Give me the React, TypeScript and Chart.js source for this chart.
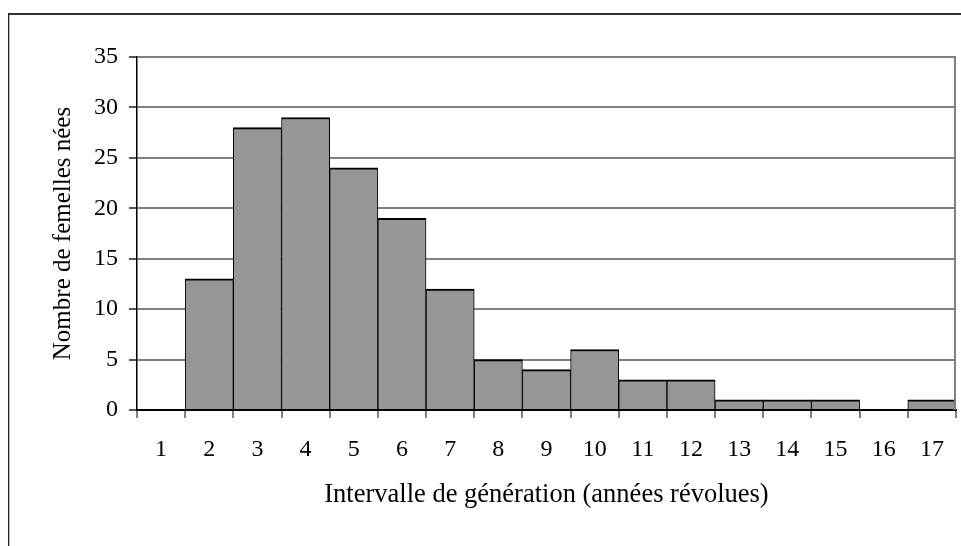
import React, { useEffect, useRef } from 'react';
import { Chart, registerables } from 'chart.js';
Chart.register(...registerables);

const categories = ['1', '2', '3', '4', '5', '6', '7', '8', '9', '10', '11', '12', '13', '14', '15', '16', '17'];
const femalesBorn = [0, 13, 28, 29, 24, 19, 12, 5, 4, 6, 3, 3, 1, 1, 1, 0, 1];
const yMin = 0;
const yMax = 35;
const yStep = 5;
const xTitle = 'Intervalle de génération (années révolues)';
const yTitle = 'Nombre de femelles nées';

const FONT = "'Liberation Serif', 'Times New Roman', serif";

const framePlugin = {
  id: 'frame',
  afterDraw(chart: any) {
    const { ctx, chartArea } = chart;
    ctx.save();
    ctx.fillStyle = '#333333';
    ctx.fillRect(8, 13, 953, 2);
    ctx.fillStyle = '#222222';
    ctx.fillRect(8, 13, 1.3, 533);
    ctx.strokeStyle = '#808080';
    ctx.lineWidth = 2;
    ctx.beginPath();
    ctx.moveTo(chartArea.right - 1, chartArea.top);
    ctx.lineTo(chartArea.right - 1, chartArea.bottom);
    ctx.stroke();
    ctx.restore();
  },
};

export default function App() {
  const ref = useRef<HTMLCanvasElement | null>(null);
  useEffect(() => {
    if (!ref.current) return;
    const chart = new Chart(ref.current, {
      type: 'bar',
      data: {
        labels: categories,
        datasets: [
          {
            data: femalesBorn,
            backgroundColor: '#969696',
            borderColor: '#000000',
            borderWidth: { top: 2, left: 1, right: 1, bottom: 0 },
            borderSkipped: false,
            barPercentage: 1,
            categoryPercentage: 1,
          },
        ],
      },
      options: {
        responsive: false,
        animation: false,
        layout: { padding: { left: 0, right: 4, top: 57, bottom: 0 } },
        plugins: {
          legend: { display: false },
          tooltip: { enabled: false },
        },
        scales: {
          x: {
            offset: true,
            afterFit: (s: any) => {
              s.height = 136;
            },
            grid: {
              offset: true,
              drawOnChartArea: false,
              drawTicks: true,
              tickLength: 8,
              color: '#808080',
              lineWidth: 2,
            },
            border: { color: '#000000', width: 2 },
            ticks: {
              color: '#000000',
              font: { family: FONT, size: 24, lineHeight: 1.2 },
              padding: 17,
              maxRotation: 0,
              autoSkip: false,
            },
            title: {
              display: true,
              text: xTitle,
              color: '#000000',
              font: { family: FONT, size: 26.5, lineHeight: 1.2 },
              padding: { top: 0, bottom: 35 },
            },
          },
          y: {
            min: yMin,
            max: yMax,
            afterFit: (s: any) => {
              s.width = 137;
            },
            grid: {
              color: '#808080',
              lineWidth: 2,
              tickLength: 8,
              tickColor: '#555555',
            },
            border: { color: '#000000', width: 1.5 },
            ticks: {
              stepSize: yStep,
              color: '#000000',
              font: { family: FONT, size: 24, lineHeight: 1.2 },
              padding: 11,
            },
            title: {
              display: true,
              text: yTitle,
              color: '#000000',
              font: { family: FONT, size: 25, lineHeight: 1.2 },
              padding: { top: 48, bottom: 0 },
            },
          },
        },
      },
      plugins: [framePlugin],
    });
    return () => chart.destroy();
  }, []);
  return (
    <div style={{ position: 'fixed', left: 0, top: 0, width: 961, height: 546, background: '#ffffff' }}>
      <canvas ref={ref} width={961} height={546} style={{ display: 'block' }} />
    </div>
  );
}
